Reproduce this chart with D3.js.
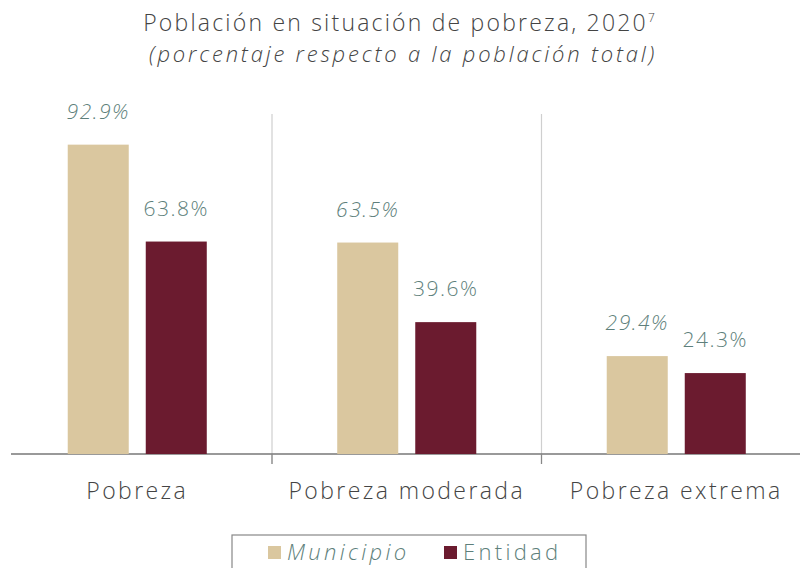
<!DOCTYPE html>
<html><head><meta charset="utf-8">
<script src="https://cdn.jsdelivr.net/npm/d3@7"></script>
<style>html,body{margin:0;padding:0;background:#fff;}svg{display:block;}</style>
</head><body>
<svg id="chart" width="800" height="568"></svg>
<script>
const categories = ["Pobreza", "Pobreza moderada", "Pobreza extrema"];
const seriesNames = ["Municipio", "Entidad"];
const municipio = [92.9, 63.5, 29.4];
const entidad = [63.8, 39.6, 24.3];
const labelsMunicipio = ["92.9%", "63.5%", "29.4%"];
const labelsEntidad = ["63.8%", "39.6%", "24.3%"];

const colors = {Municipio: "#dac79f", Entidad: "#6b1b2f"};
const labelColor = "#5e7f7b";
const textColor = "#444";
const font = "'Open Sans', Lato, sans-serif";
const fw = 300;

const svg = d3.select("#chart");
const baseY = 454;

const x = d3.scaleBand().domain(categories).range([2.5, 811]).paddingInner(0).paddingOuter(0);
const xs = d3.scaleBand().domain(seriesNames).range([0, x.bandwidth()]).paddingInner(0.218).paddingOuter(0.836);
const y = d3.scaleLinear().domain([0, 100]).range([baseY, baseY - 333]);

// title
svg.append("text").attr("x", 399).attr("y", 31).attr("text-anchor", "middle")
  .attr("font-family", font).attr("font-weight", fw).attr("font-size", 23).attr("fill", textColor).attr("letter-spacing", 2.2)
  .text("Población en situación de pobreza, 2020")
  .append("tspan").attr("dy", -9).attr("font-size", 12).attr("letter-spacing", 0).text("7");
svg.append("text").attr("x", 403).attr("y", 62).attr("text-anchor", "middle")
  .attr("font-family", font).attr("font-weight", fw).attr("font-size", 22).attr("font-style", "italic").attr("fill", textColor).attr("letter-spacing", 2.8)
  .text("(porcentaje respecto a la población total)");

// dividers
const dividers = categories.slice(1);
svg.selectAll("line.div").data(dividers).join("line")
  .attr("x1", d => x(d)).attr("x2", d => x(d))
  .attr("y1", 114).attr("y2", baseY + 10)
  .attr("stroke", "#cfcfcf").attr("stroke-width", 1.2);

// axis
const axis = d3.axisBottom(x).tickSize(0).tickFormat("");
const ag = svg.append("g").attr("transform", `translate(0,${baseY})`).call(axis);
ag.select(".domain").remove();
ag.append("line").attr("x1", 11).attr("x2", 800).attr("y1", 0).attr("y2", 0)
  .attr("stroke", "#777").attr("stroke-width", 1.3);
ag.selectAll(".divtick").data(dividers).join("line")
  .attr("x1", d => x(d)).attr("x2", d => x(d)).attr("y1", 0).attr("y2", 10)
  .attr("stroke", "#888").attr("stroke-width", 1.2);

// category labels
svg.selectAll("text.cat").data(categories).join("text")
  .attr("x", d => x(d) + x.bandwidth() / 2).attr("y", 499)
  .attr("text-anchor", "middle").attr("font-family", font).attr("font-weight", fw).attr("font-size", 23)
  .attr("letter-spacing", 2.4).attr("fill", textColor).text(d => d);

// bars
const data = categories.map((c, i) => ({cat: c, vals: [
  {s: "Municipio", v: municipio[i], l: labelsMunicipio[i]},
  {s: "Entidad", v: entidad[i], l: labelsEntidad[i]}]}));

const groups = svg.selectAll("g.grp").data(data).join("g")
  .attr("transform", d => `translate(${x(d.cat)},0)`);
groups.selectAll("rect").data(d => d.vals).join("rect")
  .attr("x", d => xs(d.s)).attr("width", xs.bandwidth())
  .attr("y", d => y(d.v)).attr("height", d => baseY - y(d.v))
  .attr("fill", d => colors[d.s]);
groups.selectAll("text").data(d => d.vals).join("text")
  .attr("x", d => xs(d.s) + xs.bandwidth() / 2).attr("y", d => y(d.v) - 26)
  .attr("text-anchor", "middle").attr("font-family", font).attr("font-weight", fw).attr("font-size", 21)
  .attr("letter-spacing", 1.5)
  .attr("font-style", d => d.s === "Municipio" ? "italic" : "normal")
  .attr("fill", labelColor).text(d => d.l);

// legend
const lg = svg.append("g");
lg.append("rect").attr("x", 232).attr("y", 535).attr("width", 354).attr("height", 40)
  .attr("fill", "#fff").attr("stroke", "#888").attr("stroke-width", 1.2);
const legendItems = [{s: "Municipio", x: 268, italic: true}, {s: "Entidad", x: 444, italic: false}];
legendItems.forEach(it => {
  lg.append("rect").attr("x", it.x).attr("y", 546).attr("width", 13).attr("height", 13).attr("fill", colors[it.s]);
  lg.append("text").attr("x", it.x + 19).attr("y", 560).attr("font-family", font).attr("font-weight", fw).attr("font-size", 22)
    .attr("letter-spacing", 3.3).attr("font-style", it.italic ? "italic" : "normal")
    .attr("fill", labelColor).text(it.s);
});
</script>
</body></html>
